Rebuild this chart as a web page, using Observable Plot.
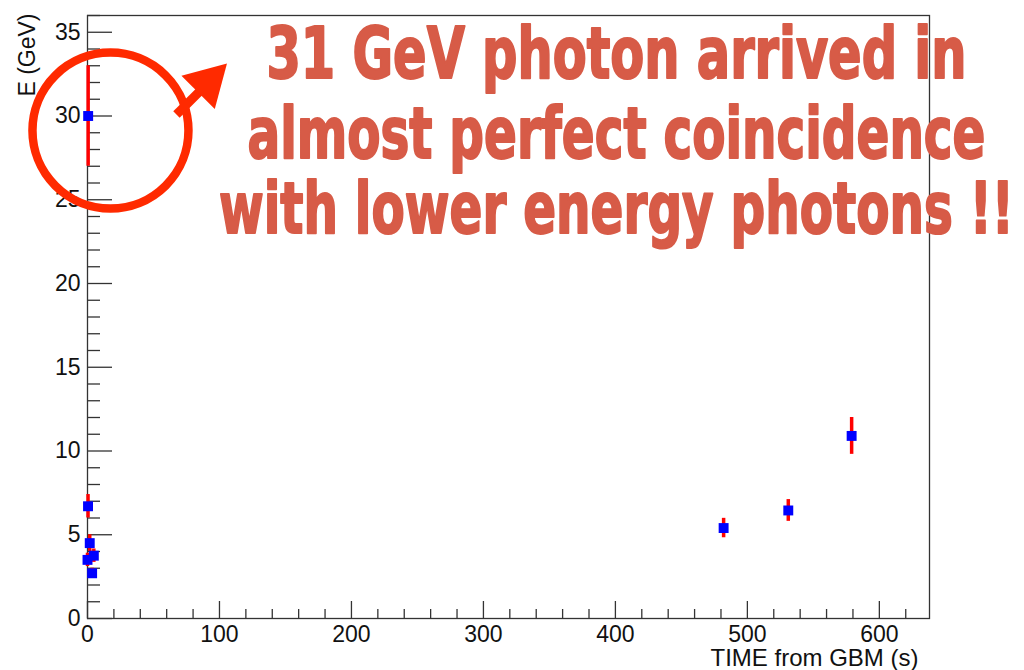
<!DOCTYPE html>
<html>
<head>
<meta charset="utf-8">
<script src="https://cdn.jsdelivr.net/npm/d3@7"></script>
<script src="https://cdn.jsdelivr.net/npm/@observablehq/plot@0.6"></script>
<style>
  html, body { margin: 0; padding: 0; background: #fff; }
  #chart svg { display: block; overflow: visible; }
</style>
</head>
<body>
<div id="chart"></div>
<script>
// ---- data: photon arrival time (s after GBM trigger) and energy (GeV) ----
const timeSec   = [0.5, 0.4, 1.7, 0.0, 4.8, 3.5, 482, 531, 579];
const energyGeV = [30.0, 6.7, 4.5, 3.5, 3.75, 2.7, 5.4, 6.45, 10.9];
const energyErr = [3.0, 0.7, 0.5, 0.4, 0.4, 0.3, 0.58, 0.65, 1.1];

// ---- axes ----
const xMajorTicks = [0, 100, 200, 300, 400, 500, 600];
const xMinorTicks = [20, 40, 60, 80, 120, 140, 160, 180, 220, 240, 260, 280, 320, 340, 360, 380,
                     420, 440, 460, 480, 520, 540, 560, 580, 620];
const yMajorTicks = [0, 5, 10, 15, 20, 25, 30, 35];
const yMinorTicks = [1, 2, 3, 4, 6, 7, 8, 9, 11, 12, 13, 14, 16, 17, 18, 19, 21, 22, 23, 24,
                     26, 27, 28, 29, 31, 32, 33, 34, 36];
const xTitle = "TIME from GBM (s)";
const yTitle = "E (GeV)";

// ---- annotation ----
const noteLines  = ["31 GeV photon arrived in", "almost perfect coincidence", "with lower energy photons !!"];
const noteX      = [400.8, 400.8, 400.8];
const noteY      = [32.27, 27.49, 23.0];
const noteWidths = [700, 738, 795];
const ringCenter = [{x: 17.4, y: 29.13}];
const arrowShaft = [{x1: 67.4, y1: 30.09, x2: 91.0, y2: 31.94}];
const arrowHead  = [{x: 91.1, y: 31.98}];

const points = timeSec.map((t, i) => ({t, e: energyGeV[i], err: energyErr[i]}));
const notes = noteLines.map((s, i) => ({s, x: noteX[i], y: noteY[i]}));

const axisColor = "#333";
const tickW = 1.3;
const noteColor = "#d75b47";
const chart = Plot.plot({
  width: 1024,
  height: 670,
  marginLeft: 87,
  marginRight: 95,
  marginTop: 15,
  marginBottom: 52,
  style: {fontFamily: "'Liberation Sans', Arial, Helvetica, sans-serif", fontSize: "23px", color: "#222", background: "#fff"},
  x: {domain: [0, 638], axis: null},
  y: {domain: [0, 36], axis: null},
  marks: [
    Plot.frame({stroke: axisColor, strokeWidth: tickW}),
    // inward ticks (rules anchored at the axis, extended inward by negative insets)
    Plot.ruleY(yMajorTicks, {y: d => d, x1: 0, x2: 0, insetRight: -25, stroke: axisColor, strokeWidth: tickW}),
    Plot.ruleY(yMinorTicks, {y: d => d, x1: 0, x2: 0, insetRight: -13, stroke: axisColor, strokeWidth: tickW}),
    Plot.ruleX(xMajorTicks, {x: d => d, y1: 0, y2: 0, insetTop: -17, stroke: axisColor, strokeWidth: tickW}),
    Plot.ruleX(xMinorTicks, {x: d => d, y1: 0, y2: 0, insetTop: -9, stroke: axisColor, strokeWidth: tickW}),
    // tick labels
    Plot.text(yMajorTicks, {y: d => d, text: d => String(d), frameAnchor: "left", textAnchor: "end",
                            dx: -7, fontSize: 23, fill: "#111"}),
    Plot.text(xMajorTicks, {x: d => d, text: d => String(d), frameAnchor: "bottom", lineAnchor: "top",
                            dy: 7, fontSize: 23, fill: "#111"}),
    // axis titles
    Plot.text([yTitle], {frameAnchor: "top-left", rotate: -90, textAnchor: "end", lineAnchor: "bottom",
                         dx: -53, dy: -2, fontSize: 23, fill: "#111"}),
    Plot.text([xTitle], {frameAnchor: "bottom-right", textAnchor: "end", lineAnchor: "bottom",
                         dx: -11, dy: 47, fontSize: 24, fill: "#111"}),
    // data
    Plot.ruleX(points, {x: "t", y1: d => d.e - d.err, y2: d => d.e + d.err, stroke: "#ff0000", strokeWidth: 3.5}),
    Plot.dot(points, {x: "t", y: "e", symbol: "square", r: 5.6, fill: "#0000ff", stroke: "none"}),
    // annotation
    Plot.dot(ringCenter, {x: "x", y: "y", r: 78, fill: "none", stroke: "#ff2a00", strokeWidth: 8.5}),
    Plot.link(arrowShaft, {x1: "x1", y1: "y1", x2: "x2", y2: "y2", stroke: "#ff2a00", strokeWidth: 9}),
    Plot.dot(arrowHead, {x: "x", y: "y", symbol: "triangle", r: 17.5, rotate: 45, fill: "#ff2a00", stroke: "none"}),
    Plot.text(notes, {x: "x", y: "y", text: "s", textAnchor: "middle", lineAnchor: "bottom",
                      fontSize: 72, fontWeight: "bold", fill: noteColor,
                      fontFamily: "'Liberation Sans Narrow', 'DejaVu Sans Condensed', 'Liberation Sans', sans-serif"})
  ]
});

// fit each annotation line to the width it takes in the reference
chart.querySelectorAll("text").forEach(t => {
  const i = noteLines.indexOf(t.textContent);
  if (i < 0) return;
  t.setAttribute("textLength", noteWidths[i]);
  t.setAttribute("lengthAdjust", "spacingAndGlyphs");
  t.setAttribute("stroke", noteColor);
  t.setAttribute("stroke-width", "2");
  t.setAttribute("stroke-linejoin", "round");
});

document.getElementById("chart").appendChild(chart);
</script>
</body>
</html>
